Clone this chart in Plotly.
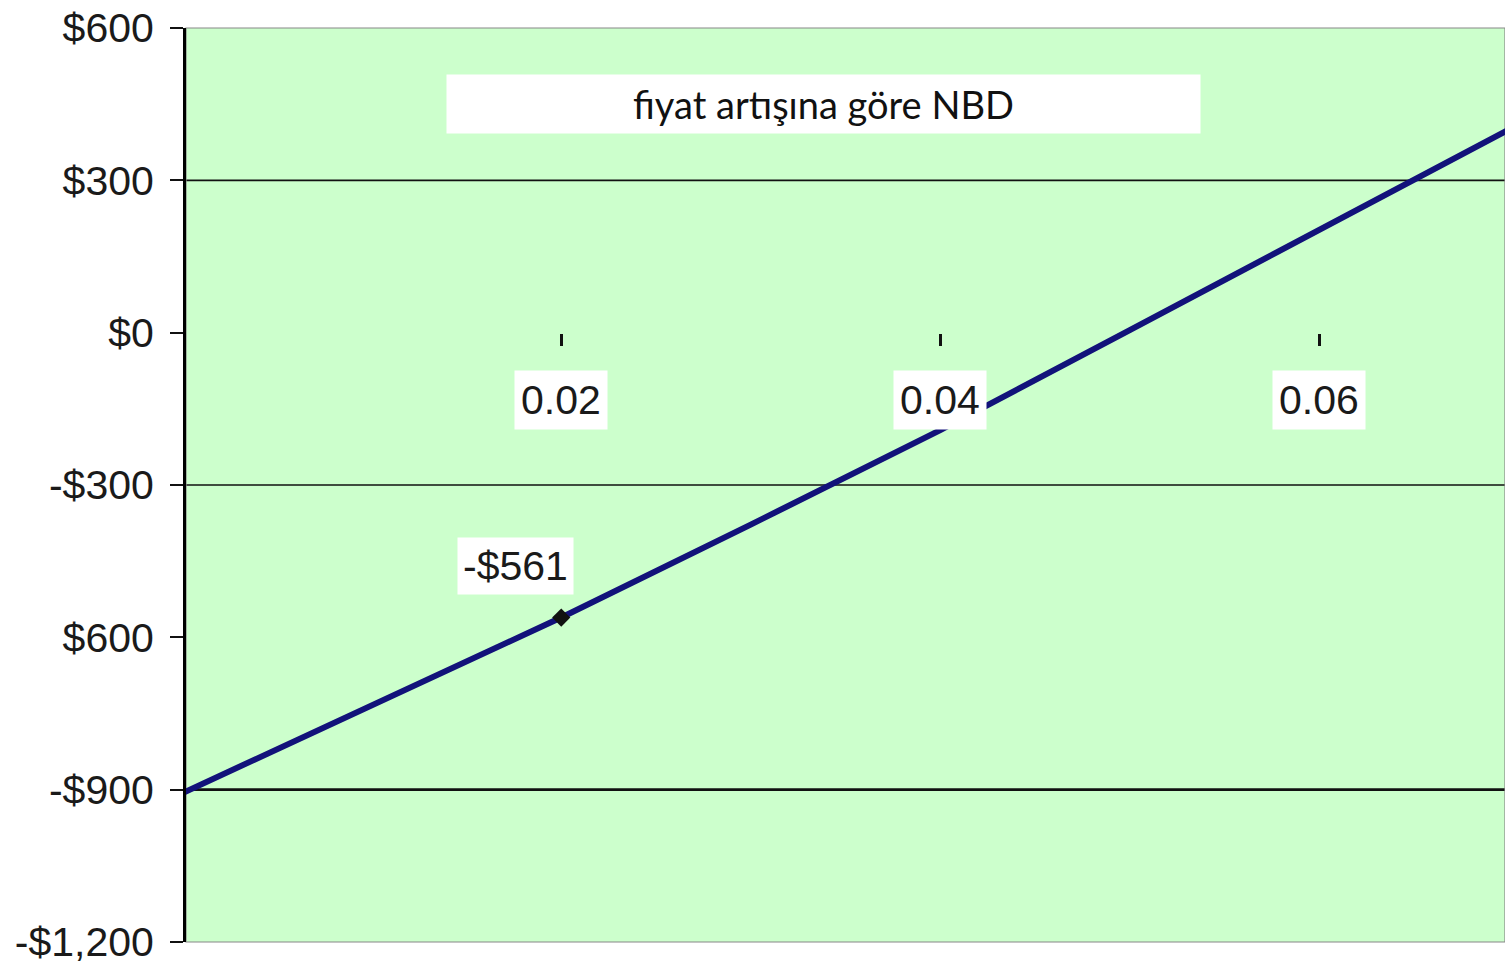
import plotly.graph_objects as go

# ---- data ----
price_increase = [0.00, 0.01, 0.02, 0.03, 0.04, 0.05, 0.06, 0.07]
npv = [-907, -733, -561, -378, -192, 5, 202, 400]

highlight_x = [0.02]
highlight_y = [-561]
highlight_label = ["-$561"]

y_tickvals = [-1200, -900, -600, -300, 0, 300, 600]
y_ticktext = ["-$1,200", "-$900", "$600", "-$300", "$0", "$300", "$600"]

x_tickvals = [0.02, 0.04, 0.06]
x_ticktext = ["0.02", "0.04", "0.06"]

grid_values = [300, -300, -900]
title_text = "fiyat artışına göre NBD"

# ---- figure ----
LABEL_FONT = "Liberation Sans, Arial, sans-serif"
fig = go.Figure()

fig.add_trace(go.Scatter(
    x=price_increase, y=npv, mode="lines",
    line=dict(color="#12127a", width=6),
    hoverinfo="skip", showlegend=False,
))
fig.add_trace(go.Scatter(
    x=highlight_x, y=highlight_y, mode="markers",
    marker=dict(symbol="diamond", size=14, color="#111111"),
    hoverinfo="skip", showlegend=False,
))

# gridlines
for gv in grid_values:
    fig.add_shape(type="line", xref="paper", x0=0, x1=1, yref="y", y0=gv, y1=gv,
                  line=dict(color="#111111", width=2.8 if gv == -900 else 1.6),
                  layer="below")

# plot border (top/bottom)
fig.add_shape(type="rect", xref="paper", yref="paper", x0=0, x1=1, y0=0, y1=1,
              line=dict(color="#888888", width=1.2), layer="below")

# x tick labels with white boxes
for xv, xt in zip(x_tickvals, x_ticktext):
    fig.add_annotation(x=xv, y=0, xref="x", yref="y", text=xt, showarrow=False,
                       yshift=-67, bgcolor="white", borderpad=6,
                       font=dict(family=LABEL_FONT, size=41, color="#1a1a1a"))

# highlighted point label
for hx, hy, hl in zip(highlight_x, highlight_y, highlight_label):
    fig.add_annotation(x=hx, y=hy, xref="x", yref="y", text=hl, showarrow=False,
                       xshift=-46, yshift=52, bgcolor="white", borderpad=5,
                       font=dict(family=LABEL_FONT, size=41, color="#1a1a1a"))

# title box
fig.add_annotation(x=0.483, y=0.917, xref="paper", yref="paper", text=title_text,
                   showarrow=False, bgcolor="white", width=753, height=58, borderpad=0,
                   xanchor="center", yanchor="middle",
                   font=dict(family="Lato, Open Sans, sans-serif", size=38, color="#111111"))

fig.update_layout(
    width=1505, height=966,
    margin=dict(l=186, r=0, t=28, b=24),
    paper_bgcolor="white",
    plot_bgcolor="#ccffcc",
    xaxis=dict(
        range=[0.0002, 0.0698],
        tickvals=x_tickvals, ticktext=x_ticktext,
        showticklabels=False,
        ticks="outside", ticklen=12, tickwidth=2.5, tickcolor="#111111",
        showline=False, showgrid=False, zeroline=False,
        anchor="free", position=2 / 3,
    ),
    yaxis=dict(
        range=[-1200, 600],
        tickvals=y_tickvals, ticktext=y_ticktext,
        ticks="outside", ticklen=13, tickwidth=2, tickcolor="#111111",
        showline=True, linecolor="#000000", linewidth=3,
        showgrid=False, zeroline=False,
        ticklabelstandoff=8,
        ticklabeloverflow="allow",
        tickfont=dict(family=LABEL_FONT, size=41, color="#1a1a1a"),
    ),
)

fig.write_html("out.html")
